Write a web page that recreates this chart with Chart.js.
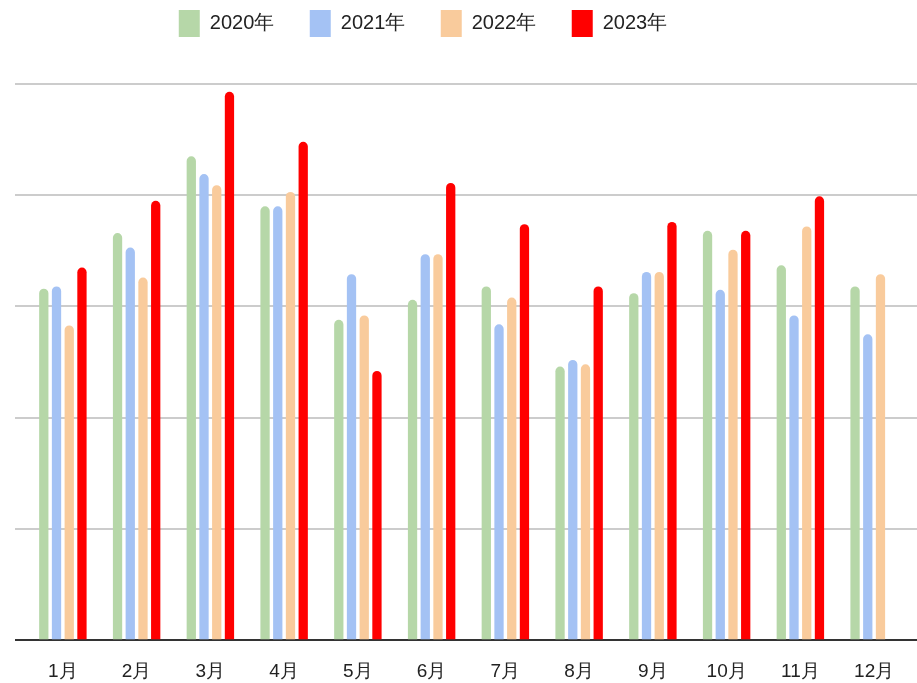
<!DOCTYPE html>
<html>
<head>
<meta charset="utf-8">
<script src="https://cdn.jsdelivr.net/npm/chart.js@4"></script>
<style>
  html, body { margin: 0; padding: 0; background: #fff; }
  #wrap { width: 917px; height: 683px; }
</style>
</head>
<body>
<div id="wrap"><canvas id="myChart" width="917" height="683"></canvas></div>
<script>
    // Datos
    var labels = ["1月", "2月", "3月", "4月", "5月", "6月", "7月", "8月", "9月", "10月", "11月", "12月"];
    var seriesNames = ["2020年", "2021年", "2022年", "2023年"];
    var v2020 = [31.6, 36.6, 43.5, 39.0, 28.8, 30.6, 31.8, 24.6, 31.2, 36.8, 33.7, 31.8];
    var v2021 = [31.8, 35.3, 41.9, 39.0, 32.9, 34.7, 28.4, 25.2, 33.1, 31.5, 29.2, 27.5];
    var v2022 = [28.3, 32.6, 40.9, 40.3, 29.2, 34.7, 30.8, 24.8, 33.1, 35.1, 37.2, 32.9];
    var v2023 = [33.5, 39.5, 49.3, 44.8, 24.2, 41.1, 37.4, 31.8, 37.6, 36.8, 39.9, null];
    var colors = ['#b6d7a8', '#a4c2f4', '#f9cb9c', '#ff0000'];

    var font = "'Liberation Sans', Arial, sans-serif";

    var values = [v2020, v2021, v2022, v2023];
    var datasets = seriesNames.map(function (name, i) {
        return {
            label: name,
            data: values[i],
            backgroundColor: colors[i],
            borderWidth: 0,
            borderRadius: 5,
            borderSkipped: 'start',
            categoryPercentage: 0.69,
            barPercentage: 0.73
        };
    });

    function gridColor(ctx) {
        return ctx.tick && ctx.tick.value === 0 ? '#333333' : '#cccccc';
    }

    // leyenda: mas espacio abajo y un poco a la izquierda
    var legendTweak = {
        id: 'legendTweak',
        beforeInit: function (chart) {
            var origFit = chart.legend.fit;
            chart.legend.fit = function () {
                origFit.bind(chart.legend)();
                this.height += 37;
            };
        },
        afterLayout: function (chart) {
            chart.legend.left -= 43;
            chart.legend.right -= 43;
        }
    };

    var config = {
        type: 'bar',
        data: { labels: labels, datasets: datasets },
        options: {
            responsive: false,
            animation: false,
            layout: { padding: { left: 15, right: 0, top: -25.5, bottom: -20 } },
            plugins: {
                legend: {
                    position: 'top',
                    labels: {
                        boxWidth: 21,
                        boxHeight: 27,
                        padding: 35.5,
                        color: '#222',
                        font: { family: font, size: 20 }
                    }
                },
                tooltip: { enabled: false }
            },
            scales: {
                x: {
                    grid: { display: false, drawTicks: false },
                    border: { display: false },
                    ticks: {
                        color: '#222',
                        padding: 20,
                        font: { family: font, size: 19 }
                    }
                },
                y: {
                    min: 0,
                    max: 50,
                    ticks: { display: false, stepSize: 10 },
                    border: { display: false },
                    grid: { color: gridColor, lineWidth: 2, drawTicks: true, tickLength: 11 }
                },
                y2: {
                    position: 'right',
                    min: 0,
                    max: 50,
                    ticks: { display: false, stepSize: 10 },
                    border: { display: false },
                    grid: { color: gridColor, lineWidth: 2, drawOnChartArea: false, drawTicks: true, tickLength: 6 }
                }
            }
        },
        plugins: [legendTweak]
    };

    var myChart = new Chart(document.getElementById('myChart'), config);
</script>
</body>
</html>
